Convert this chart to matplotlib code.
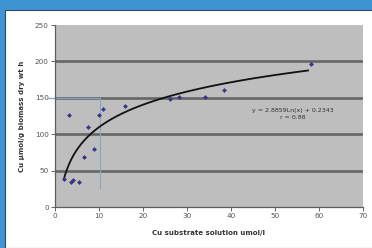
import numpy as np
from matplotlib import pyplot as plt
from matplotlib.patches import Rectangle

cu_solution = [2.0, 3.2, 3.6, 4.2, 5.5, 6.5, 7.6, 8.9, 10.0, 10.8, 15.9, 26.1, 28.2, 34.1, 38.3, 58.2]
cu_uptake = [38, 126, 35, 37, 34, 69, 110, 79, 126, 135, 139, 149, 151, 151, 161, 196]

# log trendline drawn on the chart
trend_a = 44.5
trend_b = 7.2
trend_range = (2.0, 57.5)

# reading guide (150 at x ~ 10)
guide_x = 10.2
guide_y = 150
guide_bottom = 26

x_ticks = [0, 10, 20, 30, 40, 50, 60, 70]
y_ticks = [0, 50, 100, 150, 200, 250]

fig = plt.figure(figsize=(3.72, 2.48), dpi=100)
fig.patch.set_facecolor("#3f95d3")
panel = Rectangle((5 / 372, 0), 1, 1 - 10 / 248, transform=fig.transFigure,
                  facecolor="white", edgecolor="#2b4a66", linewidth=0.8, zorder=-10)
fig.add_artist(panel)

ax = fig.add_axes([55 / 372, 1 - 207 / 248, 308 / 372, 182 / 248])
ax.set_facecolor("#bebebe")
ax.set_xlim(0, 70)
ax.set_ylim(0, 250)
ax.set_xticks(x_ticks)
ax.set_yticks(y_ticks)
ax.tick_params(labelsize=5.2, colors="#666666", length=3, width=0.7, pad=1.5)
for lab in ax.get_xticklabels() + ax.get_yticklabels():
    lab.set_color("#555555")
for y in y_ticks[1:-1]:
    ax.axhline(y, color="#666666", linewidth=1.9, zorder=1)
for s in ["top", "right"]:
    ax.spines[s].set_visible(False)
for s in ["left", "bottom"]:
    ax.spines[s].set_color("#5e5e5e")
    ax.spines[s].set_linewidth(0.9)

xs = np.linspace(*trend_range, 200)
ax.plot(xs, trend_a * np.log(xs) + trend_b, color="#111111", linewidth=1.3, zorder=3)

ax.plot([-1.5, guide_x], [guide_y, guide_y], color="#7ea3c4", linewidth=0.9,
        clip_on=False, zorder=2)
ax.plot([guide_x, guide_x], [guide_y, guide_bottom], color="#8aa6bf", linewidth=0.8, zorder=2)

ax.scatter(cu_solution, cu_uptake, s=6, marker="D", color="#35358a", zorder=4, linewidths=0)

ax.text(54, 133, "y = 2.8859Ln(x) + 0.2343", fontsize=4.5, ha="center", va="center", color="#333333")
ax.text(54, 123, "r = 0.88", fontsize=4.5, ha="center", va="center", color="#333333")

ax.set_xlabel("Cu substrate solution umol/l", fontsize=5, fontweight="bold", color="#333333", labelpad=8)
ax.set_ylabel("Cu μmol/g biomass dry wt h", fontsize=5, fontweight="bold", color="#333333", labelpad=7)

fig.savefig("out.png", dpi=100, facecolor=fig.get_facecolor())
